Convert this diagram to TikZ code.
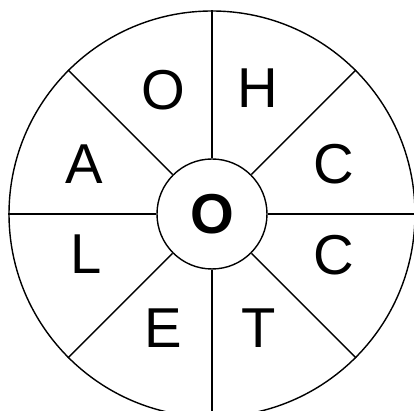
\documentclass[tikz,border=0pt]{standalone}
\usepackage{fontspec}
\setmainfont{Liberation Sans}
\usetikzlibrary{positioning}

\begin{document}
\begin{tikzpicture}[
    x=0.02cm, y=-0.02cm,
    wheel/.style={draw, circle, line width=0.8pt, inner sep=0pt},
    spoke/.style={draw, line width=0.8pt},
    letter/.style={font=\fontsize{32}{38}\selectfont, inner sep=0pt},
  ]
  \useasboundingbox (0,0) rectangle (414,411);

  % --- rim and hub ---
  \node[wheel, minimum size=406*0.02cm] (rim) at (212,214) {};
  \node[wheel, minimum size=110*0.02cm, fill=white] (hub) at (rim.center)
    {\fontsize{32}{38}\selectfont\bfseries O};

  % --- spokes between hub and rim ---
  \foreach \a in {0,45,...,315}
    \draw[spoke] (hub.\a) -- (rim.\a);

  % --- letters in the sectors ---
  \node[letter] (o) at (163,90) {O};
  \node[letter] (h) at (258,88) {H};
  \node[letter] (c1) at (334,164) {C};
  \node[letter] (c2) at (334,255) {C};
  \node[letter] (t) at (259,328) {T};
  \node[letter] (e) at (163,328) {E};
  \node[letter] (l) at (86,254) {L};
  \node[letter] (a) at (84,164) {A};
\end{tikzpicture}
\end{document}
